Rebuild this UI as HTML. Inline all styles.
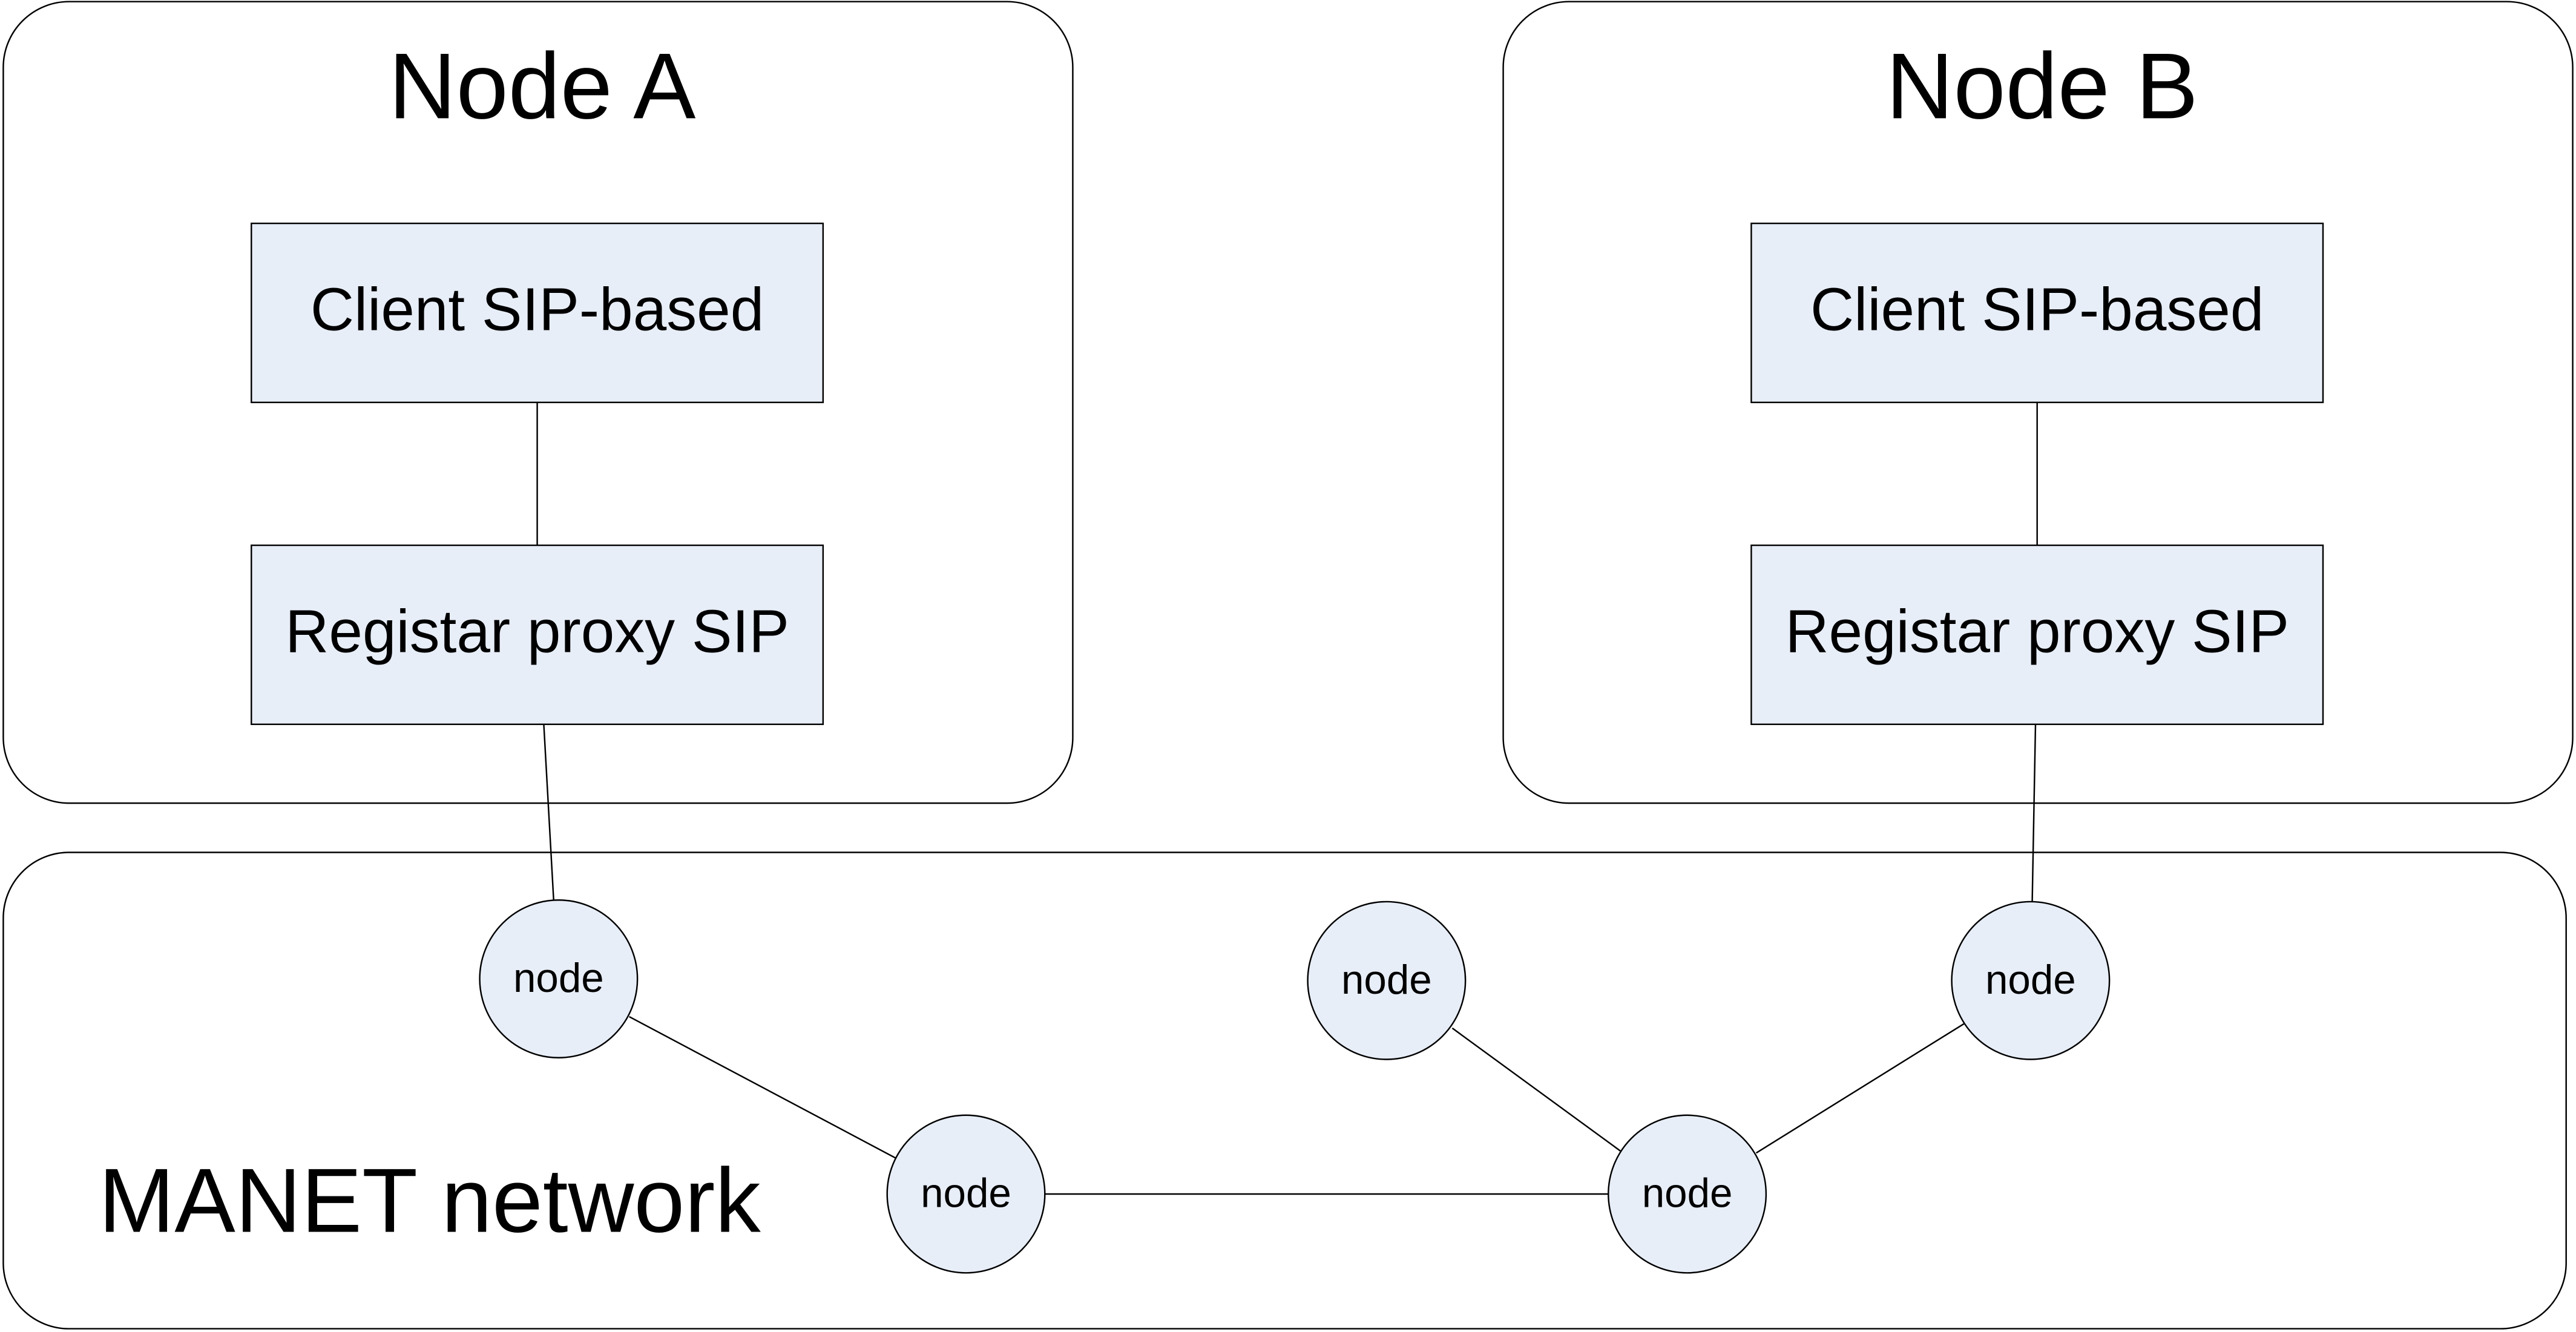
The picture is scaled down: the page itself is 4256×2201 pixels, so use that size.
<!DOCTYPE html>
<html><head><meta charset="utf-8"><style>
html,body{margin:0;padding:0;background:#fff;}
svg{display:block;}
text{font-family:"Liberation Sans",Arial,sans-serif;fill:#000;}
</style></head><body>
<svg width="4256" height="2201" viewBox="0 0 1568 811" preserveAspectRatio="none" xmlns="http://www.w3.org/2000/svg">
<g fill="none" stroke="#000" stroke-width="0.9">
<rect x="2" y="1" width="651" height="488" rx="40"/>
<rect x="915" y="1" width="651" height="488" rx="40"/>
<rect x="2" y="519" width="1560" height="290" rx="40"/>
<line x1="327" y1="245" x2="327" y2="332"/>
<line x1="331" y1="441" x2="337" y2="548"/>
<line x1="1240" y1="245" x2="1240" y2="332"/>
<line x1="1239" y1="441" x2="1237" y2="549"/>
<line x1="383" y1="619" x2="545" y2="705"/>
<line x1="636" y1="727" x2="979" y2="727"/>
<line x1="884" y1="626" x2="988" y2="702"/>
<line x1="1069" y1="702" x2="1196" y2="623"/>
</g>
<g fill="#e8eef8" stroke="#000" stroke-width="0.9">
<rect x="153" y="136" width="348" height="109"/>
<rect x="153" y="332" width="348" height="109"/>
<rect x="1066" y="136" width="348" height="109"/>
<rect x="1066" y="332" width="348" height="109"/>
<circle cx="340" cy="596" r="48"/>
<circle cx="588" cy="727" r="48"/>
<circle cx="844" cy="597" r="48"/>
<circle cx="1027" cy="727" r="48"/>
<circle cx="1236" cy="597" r="48"/>
</g>
<g text-anchor="middle">
<text x="330" y="72" font-size="57">Node A</text>
<text x="1243" y="72" font-size="57">Node B</text>
<text x="327" y="201" font-size="36.8">Client SIP-based</text>
<text x="327" y="397" font-size="36.8">Registar proxy SIP</text>
<text x="1240" y="201" font-size="36.8">Client SIP-based</text>
<text x="1240" y="397" font-size="36.8">Registar proxy SIP</text>
<text x="340" y="604" font-size="24.8">node</text>
<text x="588" y="735" font-size="24.8">node</text>
<text x="844" y="605" font-size="24.8">node</text>
<text x="1027" y="735" font-size="24.8">node</text>
<text x="1236" y="605" font-size="24.8">node</text>
</g>
<text x="60" y="750" font-size="55.5">MANET network</text>
</svg>
</body></html>
